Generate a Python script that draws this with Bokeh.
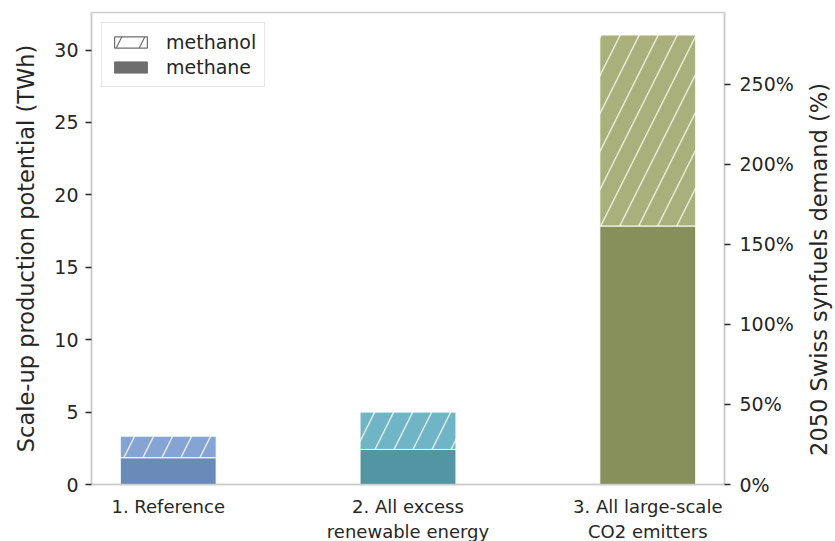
import math
from bokeh.plotting import figure
from bokeh.models import (Range1d, LinearAxis, FixedTicker, PrintfTickFormatter,
                          Legend, LegendItem, ColumnDataSource)
from bokeh.embed import file_html
from bokeh.resources import INLINE

# ---- data ----
scenarios = ["1. Reference", "2. All excess\nrenewable energy", "3. All large-scale\nCO2 emitters"]
methane = [1.85, 2.42, 17.85]
methanol = [1.49, 2.58, 13.19]
demand_twh = 11.05  # 2050 Swiss synfuels demand, 100 %
methane_colors = ["#6a8bb9", "#5495a5", "#878f5b"]
methanol_colors = ["#84a4d4", "#6fb5c5", "#a9b07b"]
y_ticks = [0, 5, 10, 15, 20, 25, 30]
pct_ticks = [0, 50, 100, 150, 200, 250]
left_title = "Scale-up production potential (TWh)"
right_title = "2050 Swiss synfuels demand (%)"

xs = list(range(len(scenarios)))
totals = [a + b for a, b in zip(methane, methanol)]
ymax = max(totals) * 1.05

TEXT = "#262626"
SPINE = "#cccccc"
FONT = "DejaVu Sans"

p = figure(frame_width=633, frame_height=472, output_backend="svg", toolbar_location=None,
           x_range=Range1d(-0.32, 2.32), y_range=Range1d(0, ymax),
           min_border_left=91, min_border_top=12, min_border_right=111, min_border_bottom=40)
p.extra_y_ranges = {"pct": Range1d(0, ymax / demand_twh * 100)}

src_me = ColumnDataSource(dict(x=xs, top=methane, color=methane_colors))
src_mo = ColumnDataSource(dict(x=xs, bottom=methane, top=totals, color=methanol_colors))

p.vbar(x="x", top="top", bottom=0, width=0.4, source=src_me, fill_color="color",
       line_color="white", line_width=1)
p.vbar(x="x", top="top", bottom="bottom", width=0.4, source=src_mo, fill_color="color",
       line_color="white", line_width=1, hatch_pattern="/", hatch_color="#f4f4ec",
       hatch_alpha=0.9, hatch_scale=38, hatch_weight=1.4)

# legend proxies
leg_mo = p.vbar(x=[float("nan")], top=[float("nan")], width=0.4, fill_color="white",
                line_color="#6e6e6e", line_width=1.2, hatch_pattern="/", hatch_color="#6e6e6e",
                hatch_scale=46, hatch_weight=1.2)
leg_me = p.vbar(x=[float("nan")], top=[float("nan")], width=0.4, fill_color="#6e6e6e",
                line_color="#6e6e6e")

legend = Legend(items=[LegendItem(label="methanol", renderers=[leg_mo]),
                       LegendItem(label="methane", renderers=[leg_me])],
                location="top_left", margin=10, padding=8, spacing=3,
                glyph_width=41, glyph_height=14, label_standoff=15, label_height=20,
                label_text_font=FONT, label_text_font_size="19px", label_text_color=TEXT,
                border_line_color=SPINE, border_line_width=1.2, background_fill_alpha=1)
p.add_layout(legend, "center")

p.grid.visible = False
p.outline_line_color = SPINE
p.outline_line_width = 1.5

# left axis
ya = p.yaxis[0]
ya.ticker = FixedTicker(ticks=y_ticks)
ya.minor_tick_line_color = None
ya.axis_label = left_title

# bottom axis
xa = p.xaxis[0]
xa.ticker = FixedTicker(ticks=xs)
xa.major_label_overrides = {i: s for i, s in zip(xs, scenarios)}
xa.minor_tick_line_color = None

# right axis
ra = LinearAxis(y_range_name="pct", ticker=FixedTicker(ticks=pct_ticks),
                formatter=PrintfTickFormatter(format="%d%%"))
ra.minor_tick_line_color = None
p.add_layout(ra, "right")

for ax in [ya, xa, ra]:
    ax.axis_line_color = SPINE
    ax.axis_line_width = 1.5
    ax.major_tick_line_color = TEXT
    ax.major_tick_line_width = 1.5
    ax.major_tick_out = 6
    ax.major_tick_in = 0
    ax.major_label_text_font = FONT
    ax.major_label_text_font_size = "19px"
    ax.major_label_text_color = TEXT
    ax.axis_label_text_font = FONT
    ax.axis_label_text_font_size = "22.5px"
    ax.axis_label_text_font_style = "normal"
    ax.axis_label_text_color = TEXT

xa.major_tick_line_color = None
xa.major_label_standoff = 5
xa.major_label_text_font_size = "18px"
ya.major_label_standoff = 7
ra.major_label_standoff = 9
ya.axis_label_standoff = 12

# right title reads bottom-to-top like the left one (lifted slightly with leading no-break spaces)
ra.axis_label = "\u00a0" * 4 + right_title
ra.axis_label_orientation = math.pi / 2
ra.axis_label_align = "start"
ra.axis_label_standoff = 22

open("out.html", "w").write(file_html(p, INLINE))
